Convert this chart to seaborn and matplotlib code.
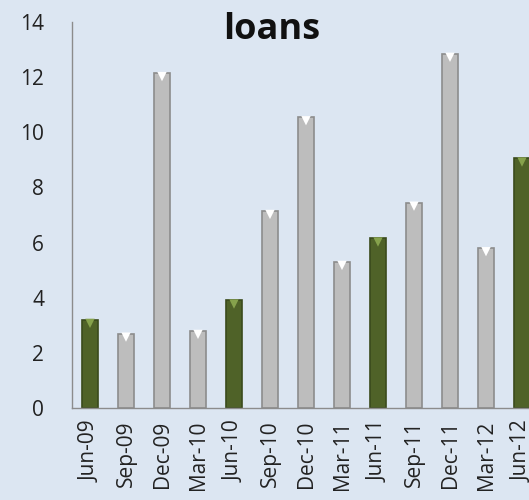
import matplotlib
matplotlib.use("Agg")
import matplotlib.pyplot as plt
import seaborn as sns
import pandas as pd

quarters = ["Jun-09", "Sep-09", "Dec-09", "Mar-10", "Jun-10", "Sep-10", "Dec-10",
            "Mar-11", "Jun-11", "Sep-11", "Dec-11", "Mar-12", "Jun-12"]
loans = [3.2, 2.7, 12.15, 2.8, 3.9, 7.15, 10.55, 5.3, 6.15, 7.45, 12.85, 5.8, 9.05]
highlight = [True, False, False, False, True, False, False, False, True, False, False, False, True]

GREEN = "#4f6228"
GREEN_EDGE = "#3a4a1c"
GRAY = "#bdbdbd"
GRAY_EDGE = "#8c8c8c"
BG = "#dce6f2"

df = pd.DataFrame({"quarter": quarters, "loans": loans,
                   "kind": ["g" if h else "s" for h in highlight]})

sns.set_style("white")
plt.rcParams["font.family"] = ["Open Sans", "DejaVu Sans"]

fig = plt.figure(figsize=(5.29, 5.0), dpi=100)
fig.patch.set_facecolor(BG)
ax = fig.add_axes([72 / 529, 1 - 408 / 500, 468 / 529, (408 - 22) / 500])
ax.set_facecolor(BG)

sns.barplot(data=df, x="quarter", y="loans", hue="kind",
            palette={"g": GREEN, "s": GRAY}, width=0.44, dodge=False,
            legend=False, ax=ax, saturation=1)

for patch in ax.patches:
    i = int(round(patch.get_x() + patch.get_width() / 2))
    if 0 <= i < len(highlight) and patch.get_height() > 0:
        patch.set_edgecolor(GREEN_EDGE if highlight[i] else GRAY_EDGE)
        patch.set_linewidth(1.2)

# small bevel triangle at the top of each bar
xs = list(range(len(quarters)))
tri_colors = ["#86a24c" if h else "#ffffff" for h in highlight]
ax.scatter(xs, [v - 0.13 for v in loans], marker="v", s=45, c=tri_colors,
           zorder=5, linewidths=0)

ax.set_xlim(-0.5, len(quarters) - 0.5)
ax.set_ylim(0, 14)
ax.set_yticks(range(0, 15, 2))
ax.set_xlabel("")
ax.set_ylabel("")
ax.tick_params(axis="y", labelsize=15, colors="#222222", length=0, pad=20)
ax.tick_params(axis="x", labelsize=15, colors="#222222", length=0, rotation=90, pad=9)

for s in ["top", "right"]:
    ax.spines[s].set_visible(False)
for s in ["left", "bottom"]:
    ax.spines[s].set_color("#8c8c8c")
    ax.spines[s].set_linewidth(1.0)

fig.text(272 / 529, 1 - 30 / 500, "loans", ha="center", va="center",
         fontsize=26, fontweight="bold", color="#111111")

fig.savefig("out.png", dpi=100, facecolor=BG)
